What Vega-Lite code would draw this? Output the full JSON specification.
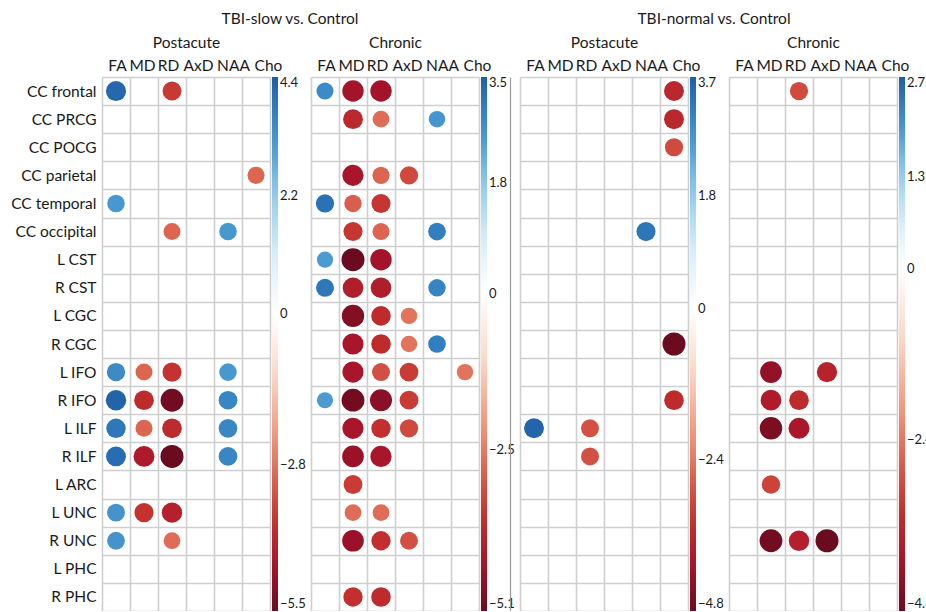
{
  "$schema": "https://vega.github.io/schema/vega-lite/v6.json",
  "padding": {"left": 10, "top": 11, "right": 0, "bottom": 0},
  "background": "white",
  "bounds": "flush",
  "spacing": 41,
  "config": {
    "font": "Lato",
    "view": {"stroke": null},
    "axis": {"domain": false, "ticks": false, "tickSize": 0, "gridColor": "#cfcfcf", "gridWidth": 1.6, "labelColor": "#1a1a1a", "titleColor": "#1a1a1a", "titleFontWeight": "normal"},
    "axisX": {"labelFontSize": 15.5, "labelAngle": 0, "labelPadding": 4, "titleFontSize": 15.5, "titlePadding": 8},
    "axisY": {"labelFontSize": 15.5, "labelPadding": 6, "title": null},
    "legend": {"gradientLength": 534, "gradientThickness": 6, "offset": 2, "padding": 0, "labelOffset": 5, "labelFontSize": 13, "labelColor": "#1a1a1a", "labelOverlap": false, "gradientStrokeWidth": 0, "direction": "vertical", "orient": "right"},
    "title": {"fontSize": 15.5, "fontWeight": "normal", "color": "#1a1a1a", "anchor": "middle", "offset": 8}
  },
  "resolve": {"scale": {"color": "independent", "size": "independent"}},
  "hconcat": [
    {
      "title": {"text": "TBI-slow vs. Control", "dx": 104},
      "width": 168, "height": 534,
      "data": {"values": [
        {"tract": "CC frontal", "measure": "FA", "t": 4.2},
        {"tract": "CC frontal", "measure": "RD", "t": -3.7},
        {"tract": "CC parietal", "measure": "Cho", "t": -3.0},
        {"tract": "CC temporal", "measure": "FA", "t": 3.2},
        {"tract": "CC occipital", "measure": "RD", "t": -3.0},
        {"tract": "CC occipital", "measure": "NAA", "t": 3.2},
        {"tract": "L IFO", "measure": "FA", "t": 3.5},
        {"tract": "L IFO", "measure": "MD", "t": -3.0},
        {"tract": "L IFO", "measure": "RD", "t": -3.8},
        {"tract": "L IFO", "measure": "NAA", "t": 3.2},
        {"tract": "R IFO", "measure": "FA", "t": 4.3},
        {"tract": "R IFO", "measure": "MD", "t": -4.0},
        {"tract": "R IFO", "measure": "RD", "t": -5.4},
        {"tract": "R IFO", "measure": "NAA", "t": 3.6},
        {"tract": "L ILF", "measure": "FA", "t": 3.9},
        {"tract": "L ILF", "measure": "MD", "t": -3.0},
        {"tract": "L ILF", "measure": "RD", "t": -4.0},
        {"tract": "L ILF", "measure": "NAA", "t": 3.6},
        {"tract": "R ILF", "measure": "FA", "t": 4.1},
        {"tract": "R ILF", "measure": "MD", "t": -4.5},
        {"tract": "R ILF", "measure": "RD", "t": -5.5},
        {"tract": "R ILF", "measure": "NAA", "t": 3.6},
        {"tract": "L UNC", "measure": "FA", "t": 3.3},
        {"tract": "L UNC", "measure": "MD", "t": -3.8},
        {"tract": "L UNC", "measure": "RD", "t": -4.3},
        {"tract": "R UNC", "measure": "FA", "t": 3.3},
        {"tract": "R UNC", "measure": "RD", "t": -2.9}
      ]},
      "mark": {"type": "circle", "opacity": 1},
      "encoding": {
        "x": {"field": "measure", "type": "nominal", "scale": {"domain": ["FA", "MD", "RD", "AxD", "NAA", "Cho"], "paddingInner": 0, "paddingOuter": 0}, "axis": {"orient": "top", "title": "Postacute", "grid": true, "tickBand": "extent", "labelOffset": {"condition": [{"test": "datum.value === 'MD'", "value": -2}, {"test": "datum.value === 'RD'", "value": -4}, {"test": "datum.value === 'AxD'", "value": -2}, {"test": "datum.value === 'NAA'", "value": 5}, {"test": "datum.value === 'Cho'", "value": 12}], "value": 1}}},
        "y": {"field": "tract", "type": "nominal", "scale": {"domain": ["CC frontal", "CC PRCG", "CC POCG", "CC parietal", "CC temporal", "CC occipital", "L CST", "R CST", "L CGC", "R CGC", "L IFO", "R IFO", "L ILF", "R ILF", "L ARC", "L UNC", "R UNC", "L PHC", "R PHC"], "paddingInner": 0, "paddingOuter": 0}, "axis": {"title": null, "grid": true, "tickBand": "extent"}},
        "color": {"field": "t", "type": "quantitative", "scale": {"domain": [-5.5, -4.675, -3.85, -3.025, -2.2, -1.1, 0, 1.1, 2.2, 3.08, 3.74, 4.4], "range": ["#6b0b1f", "#a8142a", "#c3302e", "#dc6450", "#f29b80", "#fcd9c8", "#ffffff", "#d8effb", "#93cdee", "#4d9dd4", "#3380c0", "#1f5ea6"], "interpolate": "rgb"}, "legend": {"values": [4.4, 2.2, 0, -2.8, -5.5], "title": null, "format": ".1f", "labelExpr": "datum.value === 0 ? '0' : datum.label"}},
        "size": {"field": "t", "type": "quantitative", "scale": {"domain": [-5.5, 0, 5.5], "range": [531, 0, 531]}, "legend": null}
      }
    },
    {
      "width": 168, "height": 534,
      "data": {"values": [
        {"tract": "CC frontal", "measure": "FA", "t": 2.8},
        {"tract": "CC frontal", "measure": "MD", "t": -4.4},
        {"tract": "CC frontal", "measure": "RD", "t": -4.4},
        {"tract": "CC PRCG", "measure": "MD", "t": -3.8},
        {"tract": "CC PRCG", "measure": "RD", "t": -2.7},
        {"tract": "CC PRCG", "measure": "NAA", "t": 2.6},
        {"tract": "CC parietal", "measure": "MD", "t": -4.3},
        {"tract": "CC parietal", "measure": "RD", "t": -2.8},
        {"tract": "CC parietal", "measure": "AxD", "t": -3.2},
        {"tract": "CC temporal", "measure": "FA", "t": 3.2},
        {"tract": "CC temporal", "measure": "MD", "t": -2.9},
        {"tract": "CC temporal", "measure": "RD", "t": -3.5},
        {"tract": "CC occipital", "measure": "MD", "t": -3.5},
        {"tract": "CC occipital", "measure": "RD", "t": -2.8},
        {"tract": "CC occipital", "measure": "NAA", "t": 3.0},
        {"tract": "L CST", "measure": "FA", "t": 2.5},
        {"tract": "L CST", "measure": "MD", "t": -5.1},
        {"tract": "L CST", "measure": "RD", "t": -4.4},
        {"tract": "R CST", "measure": "FA", "t": 3.1},
        {"tract": "R CST", "measure": "MD", "t": -4.1},
        {"tract": "R CST", "measure": "RD", "t": -4.1},
        {"tract": "R CST", "measure": "NAA", "t": 2.9},
        {"tract": "L CGC", "measure": "MD", "t": -4.8},
        {"tract": "L CGC", "measure": "RD", "t": -3.7},
        {"tract": "L CGC", "measure": "AxD", "t": -2.6},
        {"tract": "R CGC", "measure": "MD", "t": -4.3},
        {"tract": "R CGC", "measure": "RD", "t": -3.7},
        {"tract": "R CGC", "measure": "AxD", "t": -2.6},
        {"tract": "R CGC", "measure": "NAA", "t": 3.0},
        {"tract": "L IFO", "measure": "MD", "t": -4.3},
        {"tract": "L IFO", "measure": "RD", "t": -3.1},
        {"tract": "L IFO", "measure": "AxD", "t": -3.4},
        {"tract": "L IFO", "measure": "Cho", "t": -2.6},
        {"tract": "R IFO", "measure": "FA", "t": 2.5},
        {"tract": "R IFO", "measure": "MD", "t": -5.0},
        {"tract": "R IFO", "measure": "RD", "t": -4.7},
        {"tract": "R IFO", "measure": "AxD", "t": -3.4},
        {"tract": "L ILF", "measure": "MD", "t": -4.3},
        {"tract": "L ILF", "measure": "RD", "t": -3.6},
        {"tract": "L ILF", "measure": "AxD", "t": -3.2},
        {"tract": "R ILF", "measure": "MD", "t": -4.5},
        {"tract": "R ILF", "measure": "RD", "t": -4.3},
        {"tract": "L ARC", "measure": "MD", "t": -3.4},
        {"tract": "L UNC", "measure": "MD", "t": -2.7},
        {"tract": "L UNC", "measure": "RD", "t": -2.7},
        {"tract": "R UNC", "measure": "MD", "t": -4.5},
        {"tract": "R UNC", "measure": "RD", "t": -3.6},
        {"tract": "R UNC", "measure": "AxD", "t": -3.1},
        {"tract": "R PHC", "measure": "MD", "t": -3.6},
        {"tract": "R PHC", "measure": "RD", "t": -3.7}
      ]},
      "mark": {"type": "circle", "opacity": 1},
      "encoding": {
        "x": {"field": "measure", "type": "nominal", "scale": {"domain": ["FA", "MD", "RD", "AxD", "NAA", "Cho"], "paddingInner": 0, "paddingOuter": 0}, "axis": {"orient": "top", "title": "Chronic", "grid": true, "tickBand": "extent", "labelOffset": {"condition": [{"test": "datum.value === 'MD'", "value": -2}, {"test": "datum.value === 'RD'", "value": -4}, {"test": "datum.value === 'AxD'", "value": -2}, {"test": "datum.value === 'NAA'", "value": 5}, {"test": "datum.value === 'Cho'", "value": 12}], "value": 1}}},
        "y": {"field": "tract", "type": "nominal", "scale": {"domain": ["CC frontal", "CC PRCG", "CC POCG", "CC parietal", "CC temporal", "CC occipital", "L CST", "R CST", "L CGC", "R CGC", "L IFO", "R IFO", "L ILF", "R ILF", "L ARC", "L UNC", "R UNC", "L PHC", "R PHC"], "paddingInner": 0, "paddingOuter": 0}, "axis": {"title": null, "labels": false, "grid": true, "tickBand": "extent"}},
        "color": {"field": "t", "type": "quantitative", "scale": {"domain": [-5.1, -4.335, -3.57, -2.805, -2.04, -1.02, 0, 0.875, 1.75, 2.45, 2.975, 3.5], "range": ["#6b0b1f", "#a8142a", "#c3302e", "#dc6450", "#f29b80", "#fcd9c8", "#ffffff", "#d8effb", "#93cdee", "#4d9dd4", "#3380c0", "#1f5ea6"], "interpolate": "rgb"}, "legend": {"values": [3.5, 1.8, 0, -2.5, -5.1], "title": null, "format": ".1f", "labelExpr": "datum.value === 0 ? '0' : datum.label"}},
        "size": {"field": "t", "type": "quantitative", "scale": {"domain": [-5.1, 0, 5.1], "range": [531, 0, 531]}, "legend": null}
      }
    },
    {
      "title": {"text": "TBI-normal vs. Control", "dx": 110},
      "width": 168, "height": 534,
      "data": {"values": [
        {"tract": "CC frontal", "measure": "Cho", "t": -3.6},
        {"tract": "CC PRCG", "measure": "Cho", "t": -3.6},
        {"tract": "CC POCG", "measure": "Cho", "t": -3.0},
        {"tract": "CC occipital", "measure": "NAA", "t": 3.3},
        {"tract": "R CGC", "measure": "Cho", "t": -4.8},
        {"tract": "R IFO", "measure": "Cho", "t": -3.5},
        {"tract": "L ILF", "measure": "FA", "t": 3.6},
        {"tract": "L ILF", "measure": "RD", "t": -2.9},
        {"tract": "R ILF", "measure": "RD", "t": -2.9}
      ]},
      "mark": {"type": "circle", "opacity": 1},
      "encoding": {
        "x": {"field": "measure", "type": "nominal", "scale": {"domain": ["FA", "MD", "RD", "AxD", "NAA", "Cho"], "paddingInner": 0, "paddingOuter": 0}, "axis": {"orient": "top", "title": "Postacute", "grid": true, "tickBand": "extent", "labelOffset": {"condition": [{"test": "datum.value === 'MD'", "value": -2}, {"test": "datum.value === 'RD'", "value": -4}, {"test": "datum.value === 'AxD'", "value": -2}, {"test": "datum.value === 'NAA'", "value": 5}, {"test": "datum.value === 'Cho'", "value": 12}], "value": 1}}},
        "y": {"field": "tract", "type": "nominal", "scale": {"domain": ["CC frontal", "CC PRCG", "CC POCG", "CC parietal", "CC temporal", "CC occipital", "L CST", "R CST", "L CGC", "R CGC", "L IFO", "R IFO", "L ILF", "R ILF", "L ARC", "L UNC", "R UNC", "L PHC", "R PHC"], "paddingInner": 0, "paddingOuter": 0}, "axis": {"title": null, "labels": false, "grid": true, "tickBand": "extent", "domain": true, "domainColor": "#9a9a9a", "domainWidth": 1.2, "offset": 10}},
        "color": {"field": "t", "type": "quantitative", "scale": {"domain": [-4.8, -4.08, -3.36, -2.64, -1.92, -0.96, 0, 0.925, 1.85, 2.59, 3.145, 3.7], "range": ["#6b0b1f", "#a8142a", "#c3302e", "#dc6450", "#f29b80", "#fcd9c8", "#ffffff", "#d8effb", "#93cdee", "#4d9dd4", "#3380c0", "#1f5ea6"], "interpolate": "rgb"}, "legend": {"values": [3.7, 1.8, 0, -2.4, -4.8], "title": null, "format": ".1f", "labelExpr": "datum.value === 0 ? '0' : datum.label"}},
        "size": {"field": "t", "type": "quantitative", "scale": {"domain": [-4.8, 0, 4.8], "range": [531, 0, 531]}, "legend": null}
      }
    },
    {
      "width": 168, "height": 534,
      "data": {"values": [
        {"tract": "CC frontal", "measure": "RD", "t": -3.0},
        {"tract": "L IFO", "measure": "MD", "t": -4.3},
        {"tract": "L IFO", "measure": "AxD", "t": -3.7},
        {"tract": "R IFO", "measure": "MD", "t": -3.9},
        {"tract": "R IFO", "measure": "RD", "t": -3.5},
        {"tract": "L ILF", "measure": "MD", "t": -4.6},
        {"tract": "L ILF", "measure": "RD", "t": -4.0},
        {"tract": "L ARC", "measure": "MD", "t": -3.1},
        {"tract": "R UNC", "measure": "MD", "t": -4.7},
        {"tract": "R UNC", "measure": "RD", "t": -3.8},
        {"tract": "R UNC", "measure": "AxD", "t": -4.8}
      ]},
      "mark": {"type": "circle", "opacity": 1},
      "encoding": {
        "x": {"field": "measure", "type": "nominal", "scale": {"domain": ["FA", "MD", "RD", "AxD", "NAA", "Cho"], "paddingInner": 0, "paddingOuter": 0}, "axis": {"orient": "top", "title": "Chronic", "grid": true, "tickBand": "extent", "labelOffset": {"condition": [{"test": "datum.value === 'MD'", "value": -2}, {"test": "datum.value === 'RD'", "value": -4}, {"test": "datum.value === 'AxD'", "value": -2}, {"test": "datum.value === 'NAA'", "value": 5}, {"test": "datum.value === 'Cho'", "value": 12}], "value": 1}}},
        "y": {"field": "tract", "type": "nominal", "scale": {"domain": ["CC frontal", "CC PRCG", "CC POCG", "CC parietal", "CC temporal", "CC occipital", "L CST", "R CST", "L CGC", "R CGC", "L IFO", "R IFO", "L ILF", "R ILF", "L ARC", "L UNC", "R UNC", "L PHC", "R PHC"], "paddingInner": 0, "paddingOuter": 0}, "axis": {"title": null, "labels": false, "grid": true, "tickBand": "extent"}},
        "color": {"field": "t", "type": "quantitative", "scale": {"domain": [-4.8, -4.08, -3.36, -2.64, -1.92, -0.96, 0, 0.675, 1.35, 1.89, 2.295, 2.7], "range": ["#6b0b1f", "#a8142a", "#c3302e", "#dc6450", "#f29b80", "#fcd9c8", "#ffffff", "#d8effb", "#93cdee", "#4d9dd4", "#3380c0", "#1f5ea6"], "interpolate": "rgb"}, "legend": {"values": [2.7, 1.3, 0, -2.4, -4.8], "title": null, "format": ".1f", "labelExpr": "datum.value === 0 ? '0' : datum.label"}},
        "size": {"field": "t", "type": "quantitative", "scale": {"domain": [-4.8, 0, 4.8], "range": [531, 0, 531]}, "legend": null}
      }
    }
  ]
}
